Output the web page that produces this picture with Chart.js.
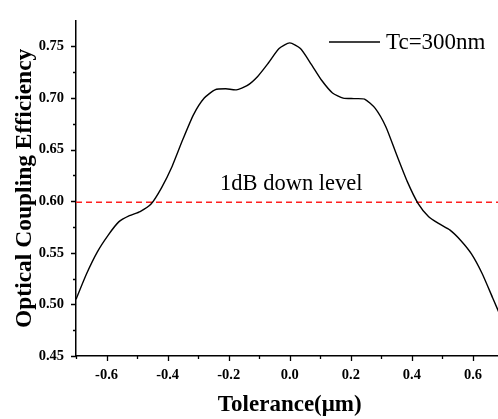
<!DOCTYPE html>
<html lang="en">
<head>
    <meta charset="UTF-8">
    <title>Optical Coupling Efficiency vs Tolerance</title>
    <script src="https://cdn.jsdelivr.net/npm/chart.js"></script>
    <style>
        html, body {
            margin: 0;
            padding: 0;
            background: #fff;
            overflow: hidden;
        }
        .chart-box {
            width: 504px;
            height: 419px;
        }
    </style>
</head>
<body>
    <div class="chart-box">
        <canvas id="couplingChart"></canvas>
    </div>

    <script>
        // values
        const tolerance = [-0.700, -0.665, -0.630, -0.595, -0.560, -0.525, -0.490, -0.455, -0.420, -0.385,
                           -0.350, -0.315, -0.280, -0.245, -0.210, -0.175, -0.140, -0.105, -0.070, -0.035,
                            0.000,  0.035,  0.070,  0.105,  0.140,  0.175,  0.210,  0.245,  0.280,  0.315,
                            0.350,  0.385,  0.420,  0.455,  0.490,  0.525,  0.560,  0.595,  0.630,  0.665, 0.700];
        const efficiency = [0.505, 0.530, 0.551, 0.567, 0.580, 0.586, 0.590, 0.597, 0.613, 0.634,
                            0.660, 0.684, 0.700, 0.708, 0.709, 0.708, 0.712, 0.721, 0.734, 0.748,
                            0.7535, 0.748, 0.733, 0.717, 0.705, 0.700, 0.6995, 0.699, 0.690, 0.672,
                            0.645, 0.619, 0.598, 0.585, 0.578, 0.572, 0.562, 0.549, 0.530, 0.506, 0.482];
        const levelValue = 0.599;
        const levelLabel = '1dB down level';
        const seriesLabel = 'Tc=300nm';
        const xTicks = [-0.6, -0.4, -0.2, 0.0, 0.2, 0.4, 0.6];
        const xMinorTicks = [-0.7, -0.5, -0.3, -0.1, 0.1, 0.3, 0.5, 0.7];
        const yTicks = [0.45, 0.50, 0.55, 0.60, 0.65, 0.70, 0.75];
        const yMinorTicks = [0.475, 0.525, 0.575, 0.625, 0.675, 0.725];

        const serif = "'Liberation Serif', 'Times New Roman', serif";

        // tick marks (major + minor), the level caption and the legend
        const extrasPlugin = {
            id: 'extras',
            afterDraw(chart) {
                const ctx = chart.ctx;
                const xs = chart.scales.x, ys = chart.scales.y;
                const area = chart.chartArea;
                ctx.save();
                ctx.strokeStyle = '#000';
                ctx.lineWidth = 1.3;
                ctx.beginPath();
                xTicks.forEach(v => {
                    const px = Math.round(xs.getPixelForValue(v)) + 0.5;
                    ctx.moveTo(px, area.bottom); ctx.lineTo(px, area.bottom + 5);
                });
                xMinorTicks.forEach(v => {
                    const px = Math.round(xs.getPixelForValue(v)) + 0.5;
                    ctx.moveTo(px, area.bottom); ctx.lineTo(px, area.bottom + 3);
                });
                yTicks.forEach(v => {
                    const py = Math.round(ys.getPixelForValue(v)) + 0.5;
                    ctx.moveTo(area.left, py); ctx.lineTo(area.left - 5, py);
                });
                yMinorTicks.forEach(v => {
                    const py = Math.round(ys.getPixelForValue(v)) + 0.5;
                    ctx.moveTo(area.left, py); ctx.lineTo(area.left - 3, py);
                });
                ctx.stroke();

                // caption above the dashed line
                ctx.fillStyle = '#000';
                ctx.font = '22.5px ' + serif;
                ctx.textAlign = 'center';
                ctx.textBaseline = 'alphabetic';
                ctx.fillText(levelLabel, xs.getPixelForValue(0.005), ys.getPixelForValue(levelValue) - 12);

                // legend
                const ly = 42;
                ctx.beginPath();
                ctx.lineWidth = 1.3;
                ctx.moveTo(329, ly);
                ctx.lineTo(380, ly);
                ctx.stroke();
                ctx.textAlign = 'left';
                ctx.textBaseline = 'middle';
                ctx.font = '23px ' + serif;
                ctx.fillText(seriesLabel, 386, ly + 1);
                ctx.restore();
            }
        };

        const ctx = document.getElementById('couplingChart').getContext('2d');
        const couplingChart = new Chart(ctx, {
            type: 'line',
            data: {
                datasets: [{
                    label: seriesLabel,
                    data: tolerance.map((t, i) => ({ x: t, y: efficiency[i] })),
                    borderColor: '#000',
                    borderWidth: 1.4,
                    pointRadius: 0,
                    tension: 0.2,
                    fill: false
                }, {
                    label: levelLabel,
                    data: [{ x: -0.7, y: levelValue }, { x: 0.7, y: levelValue }],
                    borderColor: 'rgb(255, 30, 30)',
                    borderWidth: 1.5,
                    borderDash: [6, 4],
                    pointRadius: 0,
                    fill: false
                }]
            },
            options: {
                responsive: true,
                maintainAspectRatio: false,
                animation: false,
                layout: { padding: { top: 12, right: 0.5, left: 0, bottom: 0 } },
                plugins: {
                    legend: { display: false },
                    tooltip: { enabled: false }
                },
                scales: {
                    x: {
                        type: 'linear',
                        min: -0.7,
                        max: 0.7,
                        afterBuildTicks: s => { s.ticks = xTicks.map(v => ({ value: v })); },
                        afterFit: s => { s.height = 63; },
                        grid: { display: false, drawTicks: false },
                        border: { display: true, color: '#000', width: 1.5 },
                        ticks: {
                            padding: 11,
                            color: '#000',
                            maxRotation: 0,
                            font: { family: serif, size: 14.5, weight: 'bold' },
                            callback: v => v.toFixed(1)
                        },
                        title: {
                            display: true,
                            text: 'Tolerance(\u03bcm)',
                            color: '#000',
                            padding: { top: 0, bottom: 0 },
                            font: { family: serif, size: 23, weight: 'bold' }
                        }
                    },
                    y: {
                        min: 0.45,
                        max: 0.775,
                        afterBuildTicks: s => { s.ticks = yTicks.map(v => ({ value: v })); },
                        afterFit: s => { s.width = 76; },
                        grid: { display: false, drawTicks: false },
                        border: { display: true, color: '#000', width: 1.5 },
                        ticks: {
                            padding: 12,
                            color: '#000',
                            font: { family: serif, size: 14.5, weight: 'bold' },
                            callback: v => v.toFixed(2)
                        },
                        title: {
                            display: true,
                            text: 'Optical Coupling Efficiency',
                            color: '#000',
                            padding: { top: 11, bottom: 0 },
                            font: { family: serif, size: 23.5, weight: 'bold' }
                        }
                    }
                }
            },
            plugins: [extrasPlugin]
        });
    </script>
</body>
</html>
